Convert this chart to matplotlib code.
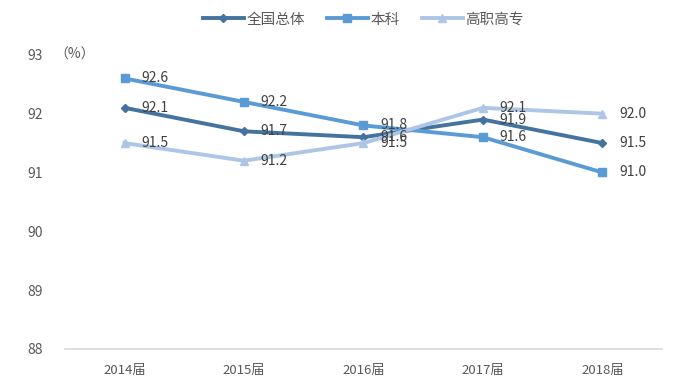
import matplotlib.pyplot as plt
import matplotlib.transforms as mtransforms
import numpy as np

plt.rcParams['font.family'] = ['Noto Sans CJK SC', 'DejaVu Sans']

years = ['2014届', '2015届', '2016届', '2017届', '2018届']
total = [92.1, 91.7, 91.6, 91.9, 91.5]
bachelor = [92.6, 92.2, 91.8, 91.6, 91.0]
vocational = [91.5, 91.2, 91.5, 92.1, 92.0]

fig = plt.figure(figsize=(6.75, 3.92), dpi=100)
ax = fig.add_axes([0.096, 0.110, 0.885, 0.750])

x = np.arange(len(years)) + 0.5
series = [
    ('全国总体', total, '#44739f', 'D', 4),
    ('本科', bachelor, '#5b9bd5', 's', 6),
    ('高职高专', vocational, '#adc6e6', '^', 6),
]
for name, vals, col, mk, ms in series:
    ax.plot(x, vals, color=col, lw=2.8, marker=mk, ms=ms, label=name)
    for xi, v in zip(x, vals):
        ax.annotate(f'{v:.1f}', (xi, v), xytext=(12, 0), textcoords='offset points',
                    va='center', ha='left', fontsize=10, color='#404040')

ax.set_xlim(0, len(years))
ax.set_ylim(88, 93)
ax.set_xticks(x)
ax.set_xticklabels(years, fontsize=9.5, color='#595959')
ax.set_yticks([88, 89, 90, 91, 92, 93])
ax.set_yticklabels(['88', '89', '90', '91', '92', '93'], fontsize=10, color='#595959')
ax.tick_params(length=0)
ax.tick_params(axis='y', pad=16)
ax.tick_params(axis='x', pad=11)
for s in ['top', 'right', 'left']:
    ax.spines[s].set_visible(False)
ax.spines['bottom'].set_color('#d9d9d9')
ax.spines['bottom'].set_linewidth(1.2)

# unit next to the top tick label
trans = mtransforms.blended_transform_factory(fig.transFigure, ax.transData)
ax.text(0.080, 93, '（%）', transform=trans, fontsize=10, color='#595959',
        va='center', ha='left')

ax.legend(loc='center', bbox_to_anchor=(0.5, 1.12), ncol=3, frameon=False,
          fontsize=10.5, handlelength=2.8, columnspacing=1.5, handletextpad=0.2,
          labelcolor='#595959')

fig.savefig('out.png', dpi=100)
